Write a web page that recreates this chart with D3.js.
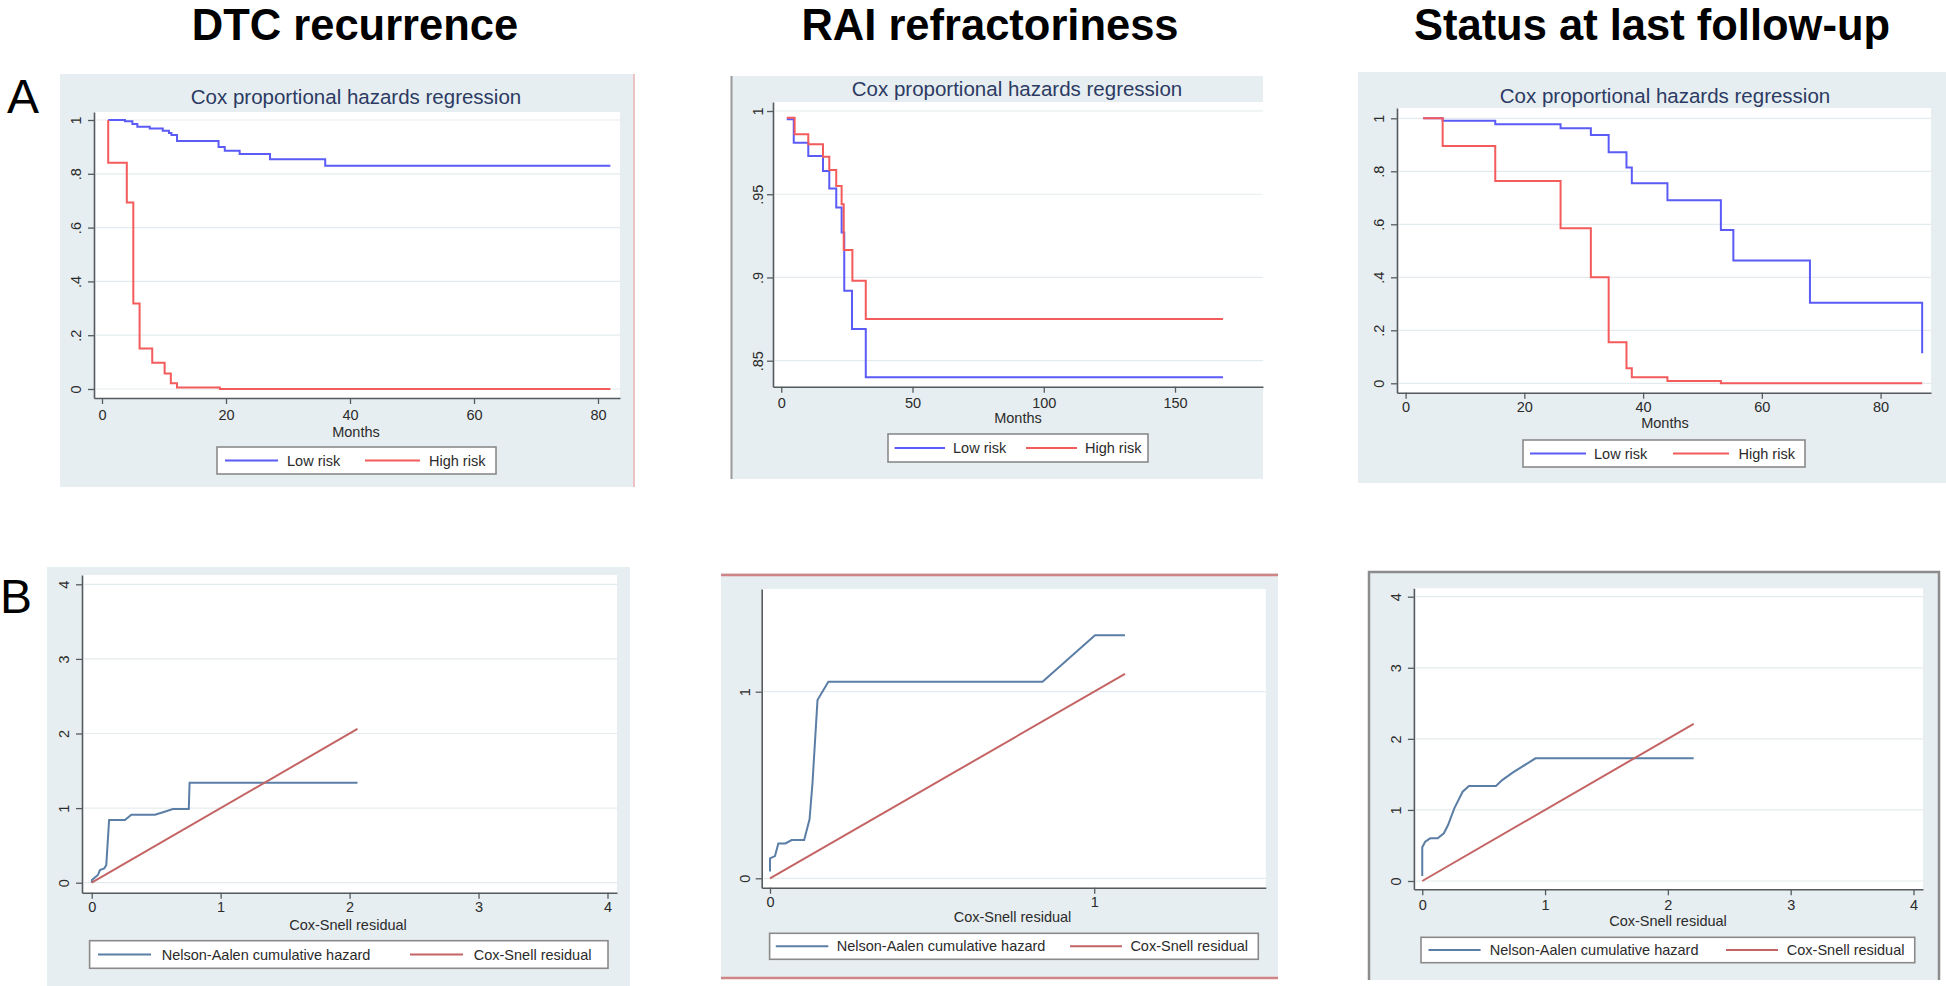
<!DOCTYPE html>
<html><head><meta charset="utf-8">
<script src="https://cdn.jsdelivr.net/npm/d3@7/dist/d3.min.js"></script>
<style>
html,body{margin:0;padding:0;background:#fff;overflow:hidden;}
svg{display:block;}
text{font-family:"Liberation Sans",Arial,Helvetica,sans-serif;}
</style>
</head><body>
<svg id="chart" width="1946" height="986"></svg>
<script>
// ---------- text ----------
const columnTitles = ["DTC recurrence", "RAI refractoriness", "Status at last follow-up"];
const rowLetters = ["A", "B"];
const kmSubtitle = "Cox proportional hazards regression";
const kmXTitle = "Months";
const kmLegendLabels = ["Low risk", "High risk"];
const resXTitle = "Cox-Snell residual";
const resLegendLabels = ["Nelson-Aalen cumulative hazard", "Cox-Snell residual"];

// ---------- row A: survival curves [months, survival] ----------
const dtcLowRisk = [[1,1],[3.7,0.995],[4.9,0.985],[5.7,0.975],[7.7,0.968],[9.8,0.96],[10.8,0.952],[11.2,0.944],[12.1,0.922],[18.8,0.90],[19.8,0.886],[22.2,0.874],[27.1,0.854],[36,0.830],[82,0.830]];
const dtcHighRisk = [[1,1],[1,0.841],[4.0,0.693],[5.05,0.318],[6.06,0.151],[8.1,0.098],[10.1,0.058],[11.1,0.021],[12.1,0.006],[19,0],[82,0]];
const raiLowRisk = [[2.1,0.995],[4.76,0.981],[10.3,0.973],[15.9,0.964],[18.3,0.9535],[20.95,0.942],[23.0,0.927],[24.0,0.892],[26.95,0.869],[32.2,0.840],[168.3,0.840]];
const raiHighRisk = [[2.1,0.996],[5.1,0.986],[10.3,0.980],[15.9,0.9725],[18.3,0.9645],[20.95,0.955],[23.0,0.944],[23.8,0.9165],[27.1,0.898],[32.2,0.875],[168.3,0.875]];
const statusLowRisk = [[2.95,1],[6.24,0.991],[15.1,0.978],[26.1,0.962],[31.2,0.937],[34.2,0.872],[37.2,0.814],[38.1,0.755],[44.1,0.6905],[53.1,0.5785],[55.2,0.463],[68.1,0.304],[87.0,0.113]];
const statusHighRisk = [[2.95,1],[6.24,0.8955],[15.1,0.763],[26.1,0.585],[31.2,0.40],[34.2,0.155],[37.2,0.057],[38.1,0.023],[44.1,0.009],[53.1,0],[87,0]];

// ---------- row B: Cox-Snell residual diagnostics [residual, cumulative hazard] ----------
const dtcNelsonAalen = [[0,0],[0.002,0.035],[0.048,0.103],[0.064,0.17],[0.097,0.19],[0.113,0.236],[0.135,0.84],[0.258,0.84],[0.307,0.91],[0.491,0.91],[0.565,0.952],[0.630,0.988],[0.753,0.988],[0.759,1.34],[2.061,1.34]];
const dtcCoxSnell = [[0,0],[2.061,2.061]];
const raiNelsonAalen = [[0,0.036],[0,0.107],[0.0154,0.119],[0.0257,0.187],[0.0475,0.187],[0.0669,0.205],[0.1054,0.205],[0.122,0.316],[0.131,0.509],[0.1465,0.955],[0.18,1.053],[0.8406,1.053],[1.0025,1.303],[1.095,1.303]];
const raiCoxSnell = [[0,0],[1.095,1.095]];
const statusNelsonAalen = [[0,0.07],[0,0.474],[0.024,0.553],[0.065,0.60],[0.126,0.60],[0.176,0.671],[0.21,0.788],[0.261,1.022],[0.329,1.256],[0.38,1.337],[0.60,1.337],[0.651,1.42],[0.736,1.524],[0.922,1.726],[2.21,1.726]];
const statusCoxSnell = [[0,0],[2.21,2.21]];

// ---------- ticks ----------
const dtcXTicks = [0,20,40,60,80];
const dtcYTicks = [0,0.2,0.4,0.6,0.8,1];
const raiXTicks = [0,50,100,150];
const raiYTicks = [0.85,0.9,0.95,1];
const statusXTicks = [0,20,40,60,80];
const statusYTicks = [0,0.2,0.4,0.6,0.8,1];
const dtcResXTicks = [0,1,2,3,4];
const dtcResYTicks = [0,1,2,3,4];
const raiResXTicks = [0,1];
const raiResYTicks = [0,1];
const statusResXTicks = [0,1,2,3,4];
const statusResYTicks = [0,1,2,3,4];

// ---------- styles ----------
const C = {
  bg: "#e7eef1", plot: "#ffffff", grid: "#e4ebee", axis: "#555a5e", tickText: "#2b2b2b",
  sub: "#2c3b63", low: "#5b5bf7", high: "#f45b5b", na: "#5b7ea6", cs: "#c46464",
  legendBorder: "#8a8a8a"
};

const svg = d3.select("#chart");
const stataFmt = d => { let s = String(+d.toFixed(3)); return s.replace(/^0\./, "."); };

function panel(cfg) {
  const g = svg.append("g");
  const [bx0, by0, bx1, by1] = cfg.bg;
  g.append("rect").attr("x", bx0).attr("y", by0).attr("width", bx1 - bx0).attr("height", by1 - by0).attr("fill", C.bg);
  const [l, t, r, b] = cfg.plot;
  g.append("rect").attr("x", l).attr("y", t).attr("width", r - l).attr("height", b - t).attr("fill", C.plot);

  // scales calibrated by tick pixel positions, extended to the plot edges
  const xs0 = d3.scaleLinear().domain([cfg.xTicks[0], cfg.xTicks[cfg.xTicks.length - 1]]).range(cfg.xPx);
  const ys0 = d3.scaleLinear().domain([cfg.yTicks[0], cfg.yTicks[cfg.yTicks.length - 1]]).range(cfg.yPx);
  const x = d3.scaleLinear().domain([xs0.invert(l), xs0.invert(r)]).range([l, r]);
  const y = d3.scaleLinear().domain([ys0.invert(b), ys0.invert(t)]).range([b, t]);

  // grid
  g.append("g").selectAll("line").data(cfg.yTicks).join("line")
    .attr("x1", l + 2).attr("x2", r).attr("y1", d => y(d)).attr("y2", d => y(d))
    .attr("stroke", C.grid).attr("stroke-width", 1.2);

  // series
  cfg.series.forEach(s => {
    const line = d3.line().x(d => x(d[0])).y(d => y(d[1])).curve(s.step ? d3.curveStepAfter : d3.curveLinear);
    g.append("path").datum(s.data).attr("d", line).attr("fill", "none")
      .attr("stroke", s.color).attr("stroke-width", 2).attr("stroke-linejoin", "miter");
  });

  // axes
  const xa = g.append("g").attr("transform", `translate(0,${b})`)
    .call(d3.axisBottom(x).tickValues(cfg.xTicks).tickFormat(stataFmt).tickSizeInner(6).tickSizeOuter(0));
  const ya = g.append("g").attr("transform", `translate(${l},0)`)
    .call(d3.axisLeft(y).tickValues(cfg.yTicks).tickFormat(stataFmt).tickSizeInner(6).tickSizeOuter(0));
  [xa, ya].forEach(a => {
    a.select(".domain").attr("stroke", C.axis).attr("stroke-width", 1.6);
    a.selectAll(".tick line").attr("stroke", C.axis).attr("stroke-width", 1.3);
    a.selectAll("text").attr("fill", C.tickText).attr("font-size", 14.5).attr("font-family", null);
  });
  xa.selectAll("text").attr("y", cfg.xLabelBase - b).attr("dy", 0);
  ya.selectAll("text").attr("x", 0).attr("y", 0).attr("dy", "0.36em").attr("text-anchor", "middle")
    .attr("transform", `translate(${cfg.yLabelX - l},0) rotate(-90)`);
  xa.attr("font-family", null); ya.attr("font-family", null);

  // titles
  if (cfg.subtitle) g.append("text").attr("x", cfg.subtitle[0]).attr("y", cfg.subtitle[1]).attr("text-anchor", "middle")
    .attr("font-size", 20.5).attr("fill", C.sub).text(kmSubtitle);
  g.append("text").attr("x", cfg.xTitle[0]).attr("y", cfg.xTitle[1]).attr("text-anchor", "middle")
    .attr("font-size", 14.5).attr("fill", C.tickText).text(cfg.xTitleText);

  // legend
  const L = cfg.legend;
  g.append("rect").attr("x", L.box[0]).attr("y", L.box[1]).attr("width", L.box[2] - L.box[0]).attr("height", L.box[3] - L.box[1])
    .attr("fill", "#fff").attr("stroke", C.legendBorder).attr("stroke-width", 1.6);
  const mid = (L.box[1] + L.box[3]) / 2;
  L.items.forEach((it, i) => {
    g.append("line").attr("x1", it[0]).attr("x2", it[1]).attr("y1", mid).attr("y2", mid)
      .attr("stroke", cfg.series[i].color).attr("stroke-width", 2);
    g.append("text").attr("x", it[2]).attr("y", mid + 5).attr("font-size", 14.5).attr("fill", C.tickText).text(L.labels[i]);
  });
  return g;
}

// ---------- column titles & row letters ----------
const titleX = [355, 990, 1652];
columnTitles.forEach((t, i) => svg.append("text").attr("x", titleX[i]).attr("y", 40).attr("text-anchor", "middle")
  .attr("font-size", 43.5).attr("font-weight", "bold").attr("fill", "#000").text(t));
svg.append("text").attr("x", 7).attr("y", 113).attr("font-size", 48).attr("fill", "#000").text(rowLetters[0]);
svg.append("text").attr("x", 0).attr("y", 613).attr("font-size", 48).attr("fill", "#000").text(rowLetters[1]);

// ---------- row A ----------
panel({ bg:[60,74,635,487], plot:[94,112,620,398], xTicks:dtcXTicks, xPx:[102,598], yTicks:dtcYTicks, yPx:[389,120],
  yLabelX:76, xLabelBase:420, subtitle:[356,104], xTitle:[356,437], xTitleText:kmXTitle,
  series:[{data:dtcLowRisk,color:C.low,step:true},{data:dtcHighRisk,color:C.high,step:true}],
  legend:{box:[217,447,496,474], items:[[225,278,287],[365,420,429]], labels:kmLegendLabels} });
svg.append("line").attr("x1",634).attr("x2",634).attr("y1",74).attr("y2",487).attr("stroke","#f1b4b4").attr("stroke-width",1.5);

panel({ bg:[731,76,1263,479], plot:[773,102,1263,386.7], xTicks:raiXTicks, xPx:[781.25,1175], yTicks:raiYTicks, yPx:[360.7,111],
  yLabelX:757.5, xLabelBase:408, subtitle:[1017,96], xTitle:[1018,423], xTitleText:kmXTitle,
  series:[{data:raiLowRisk,color:C.low,step:true},{data:raiHighRisk,color:C.high,step:true}],
  legend:{box:[888,434,1148,462], items:[[894.6,945,953],[1026,1077,1085]], labels:kmLegendLabels} });
svg.append("line").attr("x1",731.5).attr("x2",731.5).attr("y1",76).attr("y2",479).attr("stroke","#9a9a9a").attr("stroke-width",2);

panel({ bg:[1358,72,1946,483], plot:[1397,108,1931,392.7], xTicks:statusXTicks, xPx:[1405.6,1880.6], yTicks:statusYTicks, yPx:[383.3,118.3],
  yLabelX:1379, xLabelBase:412.5, subtitle:[1665,103], xTitle:[1665,428], xTitleText:kmXTitle,
  series:[{data:statusLowRisk,color:C.low,step:true},{data:statusHighRisk,color:C.high,step:true}],
  legend:{box:[1523,440,1805,467], items:[[1530,1586,1594],[1673,1729,1738.5]], labels:kmLegendLabels} });

// ---------- row B ----------
panel({ bg:[47,567,630,986], plot:[82,575,617,892.7], xTicks:dtcResXTicks, xPx:[91.7,607.5], yTicks:dtcResYTicks, yPx:[882.7,584.3],
  yLabelX:63.3, xLabelBase:912.5, xTitle:[348,930], xTitleText:resXTitle,
  series:[{data:dtcNelsonAalen,color:C.na},{data:dtcCoxSnell,color:C.cs}],
  legend:{box:[89.6,940.7,608,968.3], items:[[98,151,161.7],[410,463,473.75]], labels:resLegendLabels} });

panel({ bg:[721,573,1278,979], plot:[761.7,589,1265.8,887.7], xTicks:raiResXTicks, xPx:[770,1094.2], yTicks:raiResYTicks, yPx:[878.3,691.7],
  yLabelX:745, xLabelBase:907, xTitle:[1012.5,922], xTitleText:resXTitle,
  series:[{data:raiNelsonAalen,color:C.na},{data:raiCoxSnell,color:C.cs}],
  legend:{box:[769.6,933.3,1258.3,959.3], items:[[775.8,828.3,836.7],[1070,1122,1130.4]], labels:resLegendLabels} });
svg.append("line").attr("x1",721).attr("x2",1278).attr("y1",575).attr("y2",575).attr("stroke","#cf8585").attr("stroke-width",2.5);
svg.append("line").attr("x1",721).attr("x2",1278).attr("y1",978).attr("y2",978).attr("stroke","#cf8585").attr("stroke-width",2.5);

panel({ bg:[1368,571,1940,980], plot:[1413.9,588.3,1923,889.3], xTicks:statusResXTicks, xPx:[1422.25,1913.5], yTicks:statusResYTicks, yPx:[881,596.7],
  yLabelX:1396, xLabelBase:910, xTitle:[1668,926], xTitleText:resXTitle,
  series:[{data:statusNelsonAalen,color:C.na},{data:statusCoxSnell,color:C.cs}],
  legend:{box:[1421,937.3,1914.75,962.7], items:[[1428.5,1480.6,1489.75],[1726,1778,1786.8]], labels:resLegendLabels} });
svg.append("path").attr("d","M1369,980 V572 H1939 V980").attr("fill","none").attr("stroke","#8c8c8c").attr("stroke-width",2.5);
</script>
</body></html>
